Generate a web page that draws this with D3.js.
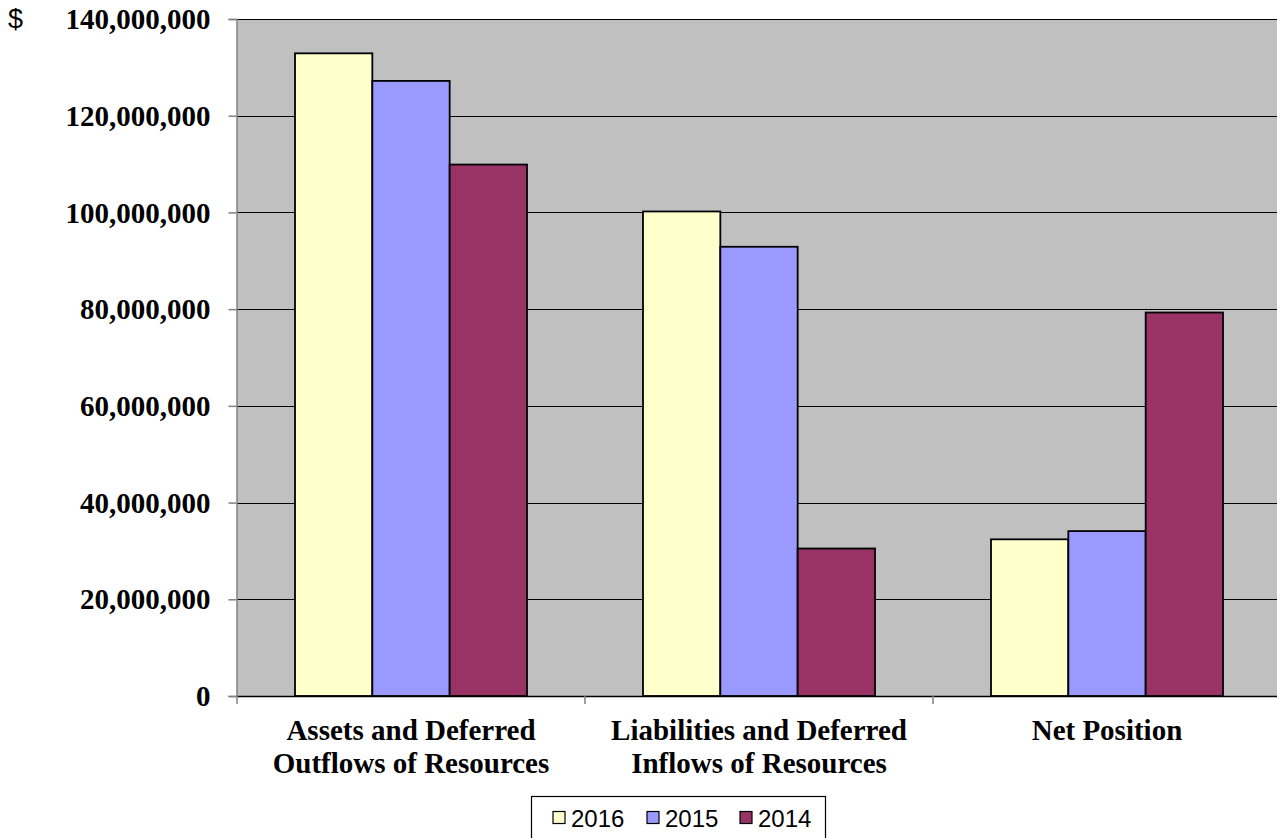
<!DOCTYPE html>
<html>
<head>
<meta charset="utf-8">
<script src="https://cdn.jsdelivr.net/npm/d3@7"></script>
<style>
  html, body { margin: 0; padding: 0; background: #ffffff; overflow: hidden; }
  svg { display: block; }
</style>
</head>
<body>
<svg id="chart" width="1277" height="838"></svg>
<script>
// Statement of net position, three fiscal years
const categories = [
  ["Assets and Deferred", "Outflows of Resources"],
  ["Liabilities and Deferred", "Inflows of Resources"],
  ["Net Position"]
];
const seriesNames = ["2016", "2015", "2014"];
const seriesColors = ["#FFFFCC", "#9999FF", "#993366"];
const values2016 = [132900000, 100200000, 32400000];
const values2015 = [127200000, 92900000, 34100000];
const values2014 = [109900000, 30500000, 79300000];
const yTicks = [0, 20000000, 40000000, 60000000, 80000000, 100000000, 120000000, 140000000];

const seriesValues = [values2016, values2015, values2014];
const catKeys = categories.map(c => c.join(" "));

const svg = d3.select("#chart");
const plot = { left: 237, right: 1281, top: 19, bottom: 696 };

const x = d3.scaleBand().domain(catKeys).range([plot.left, plot.right]).padding(0);
const xs = d3.scaleBand().domain(seriesNames).range([0, x.bandwidth()])
  .paddingInner(0).paddingOuter(0.75);
const y = d3.scaleLinear().domain([0, 140000000]).range([plot.bottom, plot.top]);

const serif = "'Liberation Serif', 'Times New Roman', serif";
const sans = "'Liberation Sans', Arial, sans-serif";

// plot background
svg.append("rect")
  .attr("x", plot.left).attr("y", plot.top)
  .attr("width", plot.right - plot.left).attr("height", plot.bottom - plot.top)
  .attr("fill", "#C0C0C0");

// horizontal gridlines
svg.append("g").selectAll("line")
  .data(yTicks.filter(d => d > 0))
  .join("line")
  .attr("x1", plot.left).attr("x2", plot.right)
  .attr("y1", d => Math.round(y(d)) + 0.5).attr("y2", d => Math.round(y(d)) + 0.5)
  .attr("stroke", "#000").attr("stroke-width", 1);

// bars
const groups = svg.append("g").selectAll("g")
  .data(catKeys)
  .join("g")
  .attr("transform", d => `translate(${x(d)},0)`);

groups.selectAll("rect")
  .data((d, i) => seriesNames.map((s, j) => ({ s, j, v: seriesValues[j][i] })))
  .join("rect")
  .attr("x", d => xs(d.s))
  .attr("width", xs.bandwidth())
  .attr("y", d => y(d.v))
  .attr("height", d => y(0) - y(d.v))
  .attr("fill", d => seriesColors[d.j])
  .attr("stroke", "#000")
  .attr("stroke-width", 1.8);

// y axis
const yAxis = d3.axisLeft(y).tickValues(yTicks).tickSize(8).tickFormat(d3.format(",d"));
const yg = svg.append("g").attr("transform", `translate(${plot.left - 0.5},0)`).call(yAxis);
yg.select(".domain").attr("stroke", "#808080").attr("stroke-width", 1.5);
yg.selectAll(".tick line").attr("stroke", "#808080").attr("stroke-width", 1.5);
yg.selectAll(".tick text")
  .attr("x", -26)
  .attr("dy", "0.33em")
  .attr("fill", "#000")
  .style("font-family", serif)
  .style("font-weight", "bold")
  .style("font-size", "29px");

// x axis
const xAxis = d3.axisBottom(x).tickSize(0).tickFormat("");
const xg = svg.append("g").attr("transform", `translate(0,${plot.bottom})`).call(xAxis);
xg.select(".domain").attr("stroke", "#000").attr("stroke-width", 1.5);
xg.append("g").selectAll("line")
  .data(catKeys.concat([null]))
  .join("line")
  .attr("x1", (d, i) => plot.left + i * x.bandwidth())
  .attr("x2", (d, i) => plot.left + i * x.bandwidth())
  .attr("y1", 0).attr("y2", 8)
  .attr("stroke", "#808080").attr("stroke-width", 1.5);

// category labels
const labels = svg.append("g").selectAll("text")
  .data(categories)
  .join("text")
  .attr("x", (d, i) => x(catKeys[i]) + x.bandwidth() / 2)
  .attr("y", 740)
  .attr("text-anchor", "middle")
  .style("font-family", serif)
  .style("font-weight", "bold")
  .style("font-size", "29px")
  .attr("fill", "#000");
labels.selectAll("tspan")
  .data(d => d)
  .join("tspan")
  .attr("x", function () { return d3.select(this.parentNode).attr("x"); })
  .attr("dy", (d, i) => i === 0 ? 0 : 33)
  .text(d => d);

// currency unit
svg.append("text")
  .attr("x", 8).attr("y", 28)
  .style("font-family", sans)
  .style("font-size", "27px")
  .attr("fill", "#000")
  .text("$");

// legend
const legend = svg.append("g");
legend.append("rect")
  .attr("x", 531.5).attr("y", 796.5)
  .attr("width", 294).attr("height", 60)
  .attr("fill", "#fff").attr("stroke", "#000").attr("stroke-width", 1.2);
const legendX = [553, 647, 740];
const items = legend.selectAll("g.item")
  .data(seriesNames)
  .join("g")
  .attr("class", "item")
  .attr("transform", (d, i) => `translate(${legendX[i]},0)`);
items.append("rect")
  .attr("x", 0).attr("y", 811.5)
  .attr("width", 12).attr("height", 12)
  .attr("fill", (d, i) => seriesColors[i])
  .attr("stroke", "#000").attr("stroke-width", 1.2);
items.append("text")
  .attr("x", 18).attr("y", 827)
  .style("font-family", sans)
  .style("font-size", "24px")
  .attr("fill", "#000")
  .text(d => d);
</script>
</body>
</html>
